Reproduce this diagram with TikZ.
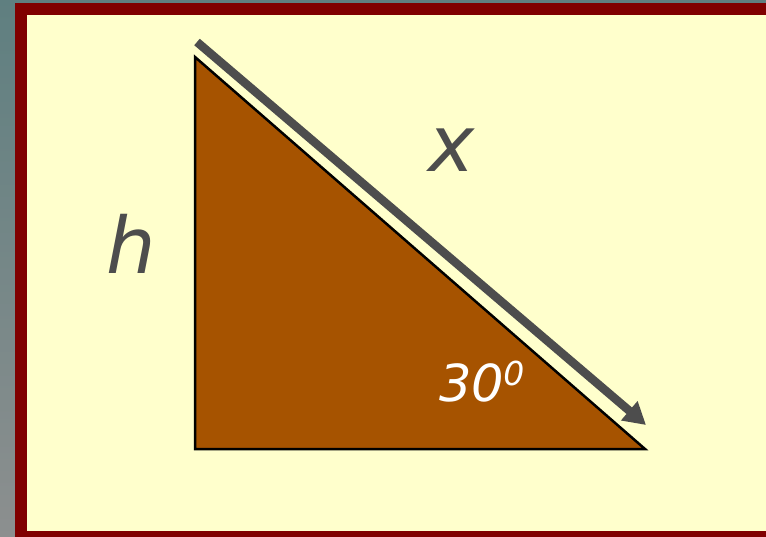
\documentclass[tikz,border=0pt]{standalone}
\usepackage{fontspec}
\setmainfont{DejaVu Sans}
\usetikzlibrary{arrows.meta}
\definecolor{bgtop}{HTML}{5F7F80}
\definecolor{bgbot}{HTML}{8C8F8F}
\definecolor{frame}{HTML}{800000}
\definecolor{paper}{HTML}{FFFFCC}
\definecolor{tri}{HTML}{A65300}
\definecolor{ink}{HTML}{4D4D4D}
\tikzset{
  lbl/.style={inner sep=0pt, text=ink, font=\itshape\fontsize{78}{78}\selectfont},
  angl/.style={inner sep=0pt, text=white, font=\itshape\fontsize{51}{51}\selectfont},
  hyp/.style={draw=ink, line width=8.5pt, -{Triangle[width=24pt,length=22pt]}},
}
\begin{document}
\begin{tikzpicture}[x=1pt,y=-1pt]
\useasboundingbox (0,0) rectangle (766,536);
\shade[top color=bgtop, bottom color=bgbot] (0,0) rectangle (766,536);
\fill[frame] (15,3) rectangle (780,545);
\fill[paper] (27,15) rectangle (780,531);
\coordinate (A) at (195,57);
\coordinate (B) at (195,449);
\coordinate (C) at (645,449);
\filldraw[fill=tri, draw=black, line width=2.5pt, line join=miter] (A) -- (B) -- (C) -- cycle;
\coordinate (s) at (197,42);
\coordinate (e) at (646,425);
\draw[hyp] (s) -- (e);
\node[lbl] (h) at (131,244) {h};
\node[lbl] (x) at (452,150) {x};
\node[angl] (ang) at (482,382) {30\kern-1pt\raisebox{16pt}{\fontsize{33}{33}\selectfont 0}};
\end{tikzpicture}
\end{document}
